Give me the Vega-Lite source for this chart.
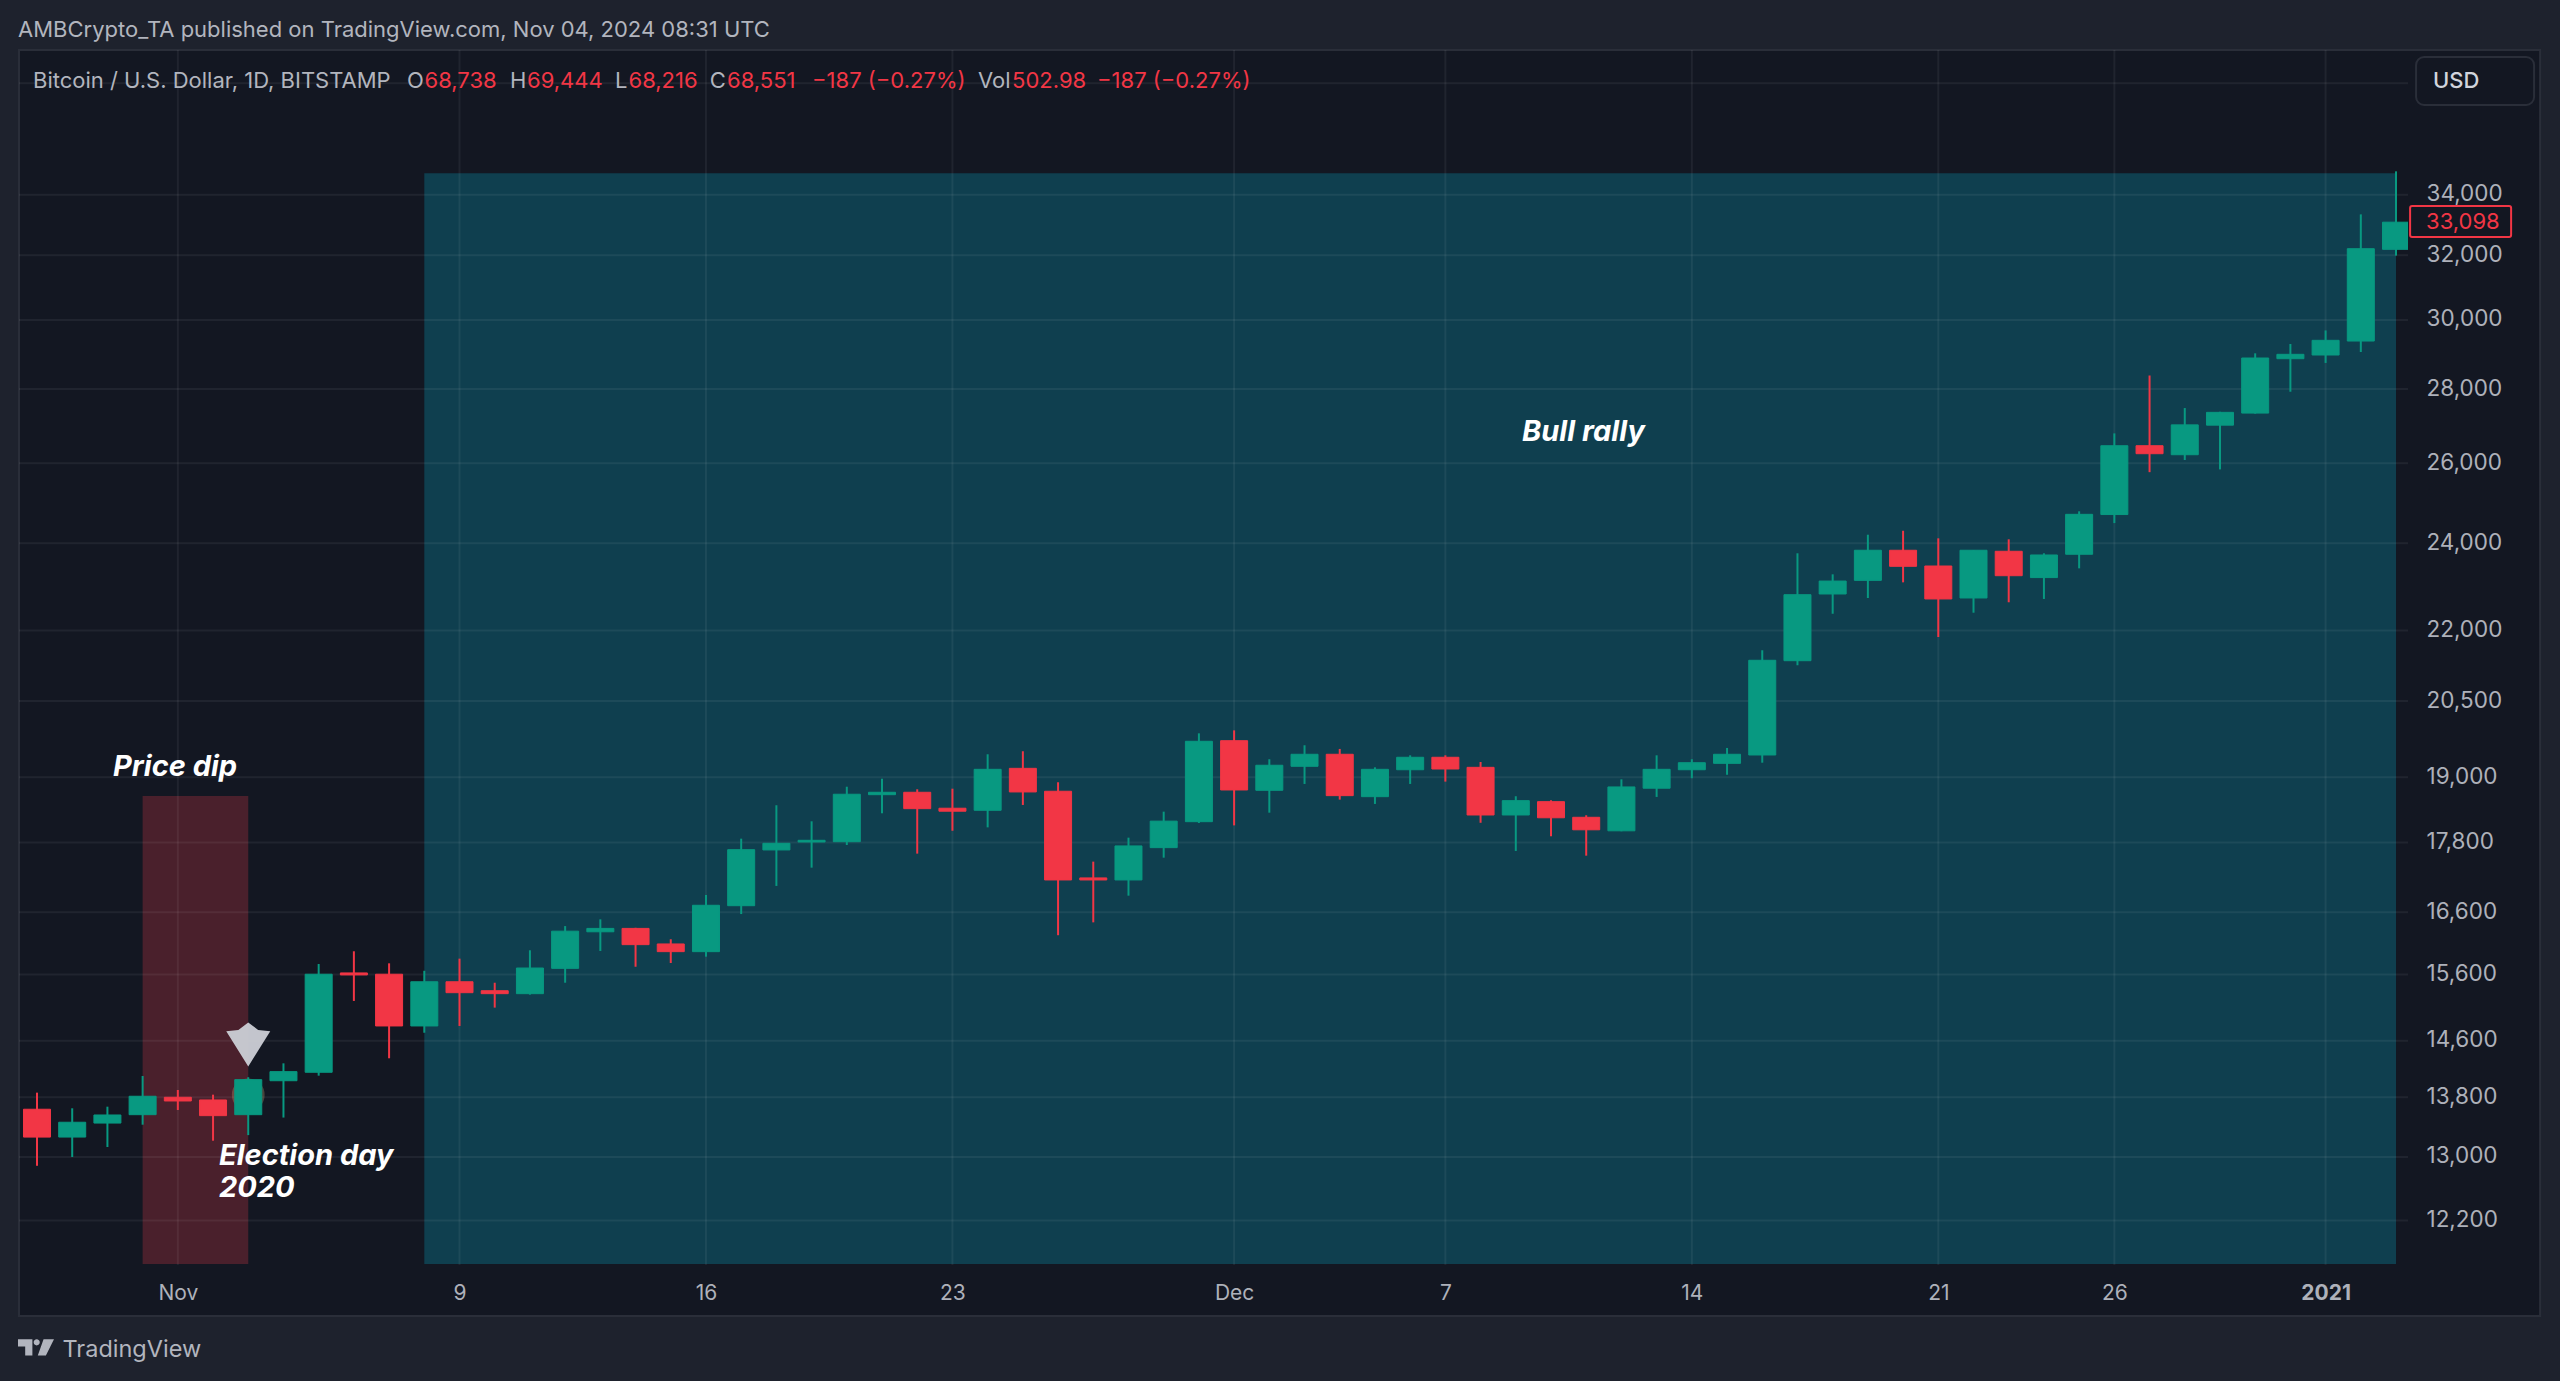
{
"$schema":"https://vega.github.io/schema/vega-lite/v6.json",
"width":2389,"height":1215,
"autosize":{"type":"none"},
"padding":{"left":19,"top":50,"right":152,"bottom":116},
"background":"#1e222d",
"config":{"view":{"stroke":null},"font":"Inter","axis":{"title":null}},
"datasets":{
"frame":[{"x":"2020-10-27T11:44:00Z","x2":"2021-01-07T02:13:00Z","y":39288,"y2":11090}],
"zones":[
{"zone":"Bull rally","x":"2020-11-08T00:00:00Z","x2":"2021-01-03T00:00:00Z","y":34735,"y2":11682},
{"zone":"Price dip","x":"2020-10-31T00:00:00Z","x2":"2020-11-03T00:00:00Z","y":18646,"y2":11682}],
"priceTicks":[{"p":12200},{"p":13000},{"p":13800},{"p":14600},{"p":15600},{"p":16600},{"p":17800},{"p":19000},{"p":20500},{"p":22000},{"p":24000},{"p":26000},{"p":28000},{"p":30000},{"p":32000},{"p":34000},{"p":38000}],
"dateTicks":[{"d":"2020-11-01"},{"d":"2020-11-09"},{"d":"2020-11-16"},{"d":"2020-11-23"},{"d":"2020-12-01"},{"d":"2020-12-07"},{"d":"2020-12-14"},{"d":"2020-12-21"},{"d":"2020-12-26"},{"d":"2021-01-01"}],
"candles":[
{"date":"2020-10-28","open":13635,"high":13863,"low":12886,"close":13261},
{"date":"2020-10-29","open":13261,"high":13648,"low":13000,"close":13459},
{"date":"2020-10-30","open":13448,"high":13670,"low":13130,"close":13557},
{"date":"2020-10-31","open":13561,"high":14096,"low":13426,"close":13813},
{"date":"2020-11-01","open":13799,"high":13900,"low":13625,"close":13748},
{"date":"2020-11-02","open":13762,"high":13835,"low":13213,"close":13548},
{"date":"2020-11-03","open":13561,"high":14078,"low":13287,"close":14044},
{"date":"2020-11-04","open":14029,"high":14275,"low":13522,"close":14157},
{"date":"2020-11-05","open":14148,"high":15764,"low":14100,"close":15604},
{"date":"2020-11-06","open":15624,"high":15966,"low":15193,"close":15593},
{"date":"2020-11-07","open":15604,"high":15775,"low":14347,"close":14818},
{"date":"2020-11-08","open":14818,"high":15658,"low":14718,"close":15487},
{"date":"2020-11-09","open":15487,"high":15849,"low":14818,"close":15319},
{"date":"2020-11-10","open":15349,"high":15472,"low":15092,"close":15304},
{"date":"2020-11-11","open":15304,"high":15982,"low":15289,"close":15701},
{"date":"2020-11-12","open":15696,"high":16373,"low":15472,"close":16290},
{"date":"2020-11-13","open":16280,"high":16484,"low":15971,"close":16335},
{"date":"2020-11-14","open":16335,"high":16345,"low":15721,"close":16072},
{"date":"2020-11-15","open":16083,"high":16159,"low":15780,"close":15960},
{"date":"2020-11-16","open":15960,"high":16890,"low":15880,"close":16717},
{"date":"2020-11-17","open":16710,"high":17867,"low":16571,"close":17672},
{"date":"2020-11-18","open":17667,"high":18474,"low":17043,"close":17785},
{"date":"2020-11-19","open":17808,"high":18180,"low":17357,"close":17838},
{"date":"2020-11-20","open":17813,"high":18819,"low":17755,"close":18678},
{"date":"2020-11-21","open":18670,"high":18970,"low":18326,"close":18715},
{"date":"2020-11-22","open":18715,"high":18771,"low":17602,"close":18411},
{"date":"2020-11-23","open":18419,"high":18782,"low":18009,"close":18364},
{"date":"2020-11-24","open":18381,"high":19439,"low":18070,"close":19149},
{"date":"2020-11-25","open":19168,"high":19498,"low":18479,"close":18721},
{"date":"2020-11-26","open":18734,"high":18903,"low":16224,"close":17145},
{"date":"2020-11-27","open":17180,"high":17462,"low":16434,"close":17145},
{"date":"2020-11-28","open":17145,"high":17885,"low":16878,"close":17738},
{"date":"2020-11-29","open":17708,"high":18356,"low":17531,"close":18183},
{"date":"2020-11-30","open":18173,"high":19850,"low":18149,"close":19693},
{"date":"2020-12-01","open":19705,"high":19909,"low":18106,"close":18758},
{"date":"2020-12-02","open":18752,"high":19343,"low":18337,"close":19227},
{"date":"2020-12-03","open":19207,"high":19615,"low":18871,"close":19439},
{"date":"2020-12-04","open":19439,"high":19543,"low":18578,"close":18652},
{"date":"2020-12-05","open":18633,"high":19187,"low":18498,"close":19149},
{"date":"2020-12-06","open":19141,"high":19419,"low":18871,"close":19381},
{"date":"2020-12-07","open":19381,"high":19419,"low":18915,"close":19155},
{"date":"2020-12-08","open":19187,"high":19290,"low":18153,"close":18295},
{"date":"2020-12-09","open":18295,"high":18641,"low":17649,"close":18559},
{"date":"2020-12-10","open":18540,"high":18566,"low":17910,"close":18244},
{"date":"2020-12-11","open":18253,"high":18290,"low":17566,"close":18026},
{"date":"2020-12-12","open":18008,"high":18959,"low":18000,"close":18815},
{"date":"2020-12-13","open":18791,"high":19419,"low":18628,"close":19149},
{"date":"2020-12-14","open":19141,"high":19343,"low":18980,"close":19276},
{"date":"2020-12-15","open":19264,"high":19562,"low":19045,"close":19439},
{"date":"2020-12-16","open":19425,"high":21568,"low":19276,"close":21353},
{"date":"2020-12-17","open":21344,"high":23762,"low":21247,"close":22799},
{"date":"2020-12-18","open":22815,"high":23268,"low":22369,"close":23112},
{"date":"2020-12-19","open":23128,"high":24207,"low":22724,"close":23834},
{"date":"2020-12-20","open":23834,"high":24303,"low":23082,"close":23455},
{"date":"2020-12-21","open":23462,"high":24120,"low":21855,"close":22702},
{"date":"2020-12-22","open":22724,"high":23834,"low":22392,"close":23834},
{"date":"2020-12-23","open":23810,"high":24096,"low":22627,"close":23236},
{"date":"2020-12-24","open":23192,"high":23762,"low":22702,"close":23722},
{"date":"2020-12-25","open":23739,"high":24780,"low":23407,"close":24705},
{"date":"2020-12-26","open":24700,"high":26786,"low":24490,"close":26458},
{"date":"2020-12-27","open":26458,"high":28381,"low":25768,"close":26248},
{"date":"2020-12-28","open":26221,"high":27473,"low":26083,"close":27015},
{"date":"2020-12-29","open":27007,"high":27371,"low":25839,"close":27355},
{"date":"2020-12-30","open":27335,"high":29017,"low":27320,"close":28881},
{"date":"2020-12-31","open":28861,"high":29288,"low":27924,"close":28988},
{"date":"2021-01-01","open":28968,"high":29688,"low":28739,"close":29396},
{"date":"2021-01-02","open":29375,"high":33338,"low":29055,"close":32214},
{"date":"2021-01-03","open":32194,"high":34803,"low":31992,"close":33079}],
"electionGlow":[{"d":"2020-11-03","p":13831}],
"electionArrow":[{"d":"2020-11-03","p":14547}],
"logo":[{"d":"2020-10-27T23:19:00Z","p":10748}],
"notes":[
{"d":"2020-10-30T03:48:00Z","p":19184,"t":"Price dip"},
{"d":"2020-12-09T04:19:00Z","p":26830,"t":"Bull rally"},
{"d":"2020-11-02T04:00:00Z","p":13010,"t":"Election day"},
{"d":"2020-11-02T04:00:00Z","p":12600,"t":"2020"}],
"headGray":[
{"d":"2020-10-27T11:03:00Z","p":40080,"t":"AMBCrypto_TA published on TradingView.com, Nov 04, 2024 08:31 UTC"},
{"d":"2020-10-27T21:16:00Z","p":38090,"t":"Bitcoin / U.S. Dollar, 1D, BITSTAMP"},
{"d":"2020-11-07T12:13:00Z","p":38090,"t":"O"},
{"d":"2020-11-10T10:26:00Z","p":38090,"t":"H"},
{"d":"2020-11-13T10:00:00Z","p":38090,"t":"L"},
{"d":"2020-11-16T02:30:00Z","p":38090,"t":"C"},
{"d":"2020-11-23T17:27:00Z","p":38090,"t":"Vol"}],
"headRed":[
{"d":"2020-11-08T00:09:00Z","p":38090,"t":"68,738"},
{"d":"2020-11-10T22:01:00Z","p":38090,"t":"69,444"},
{"d":"2020-11-13T19:12:00Z","p":38090,"t":"68,216"},
{"d":"2020-11-16T14:21:00Z","p":38090,"t":"68,551"},
{"d":"2020-11-19T00:18:00Z","p":38090,"t":"−187 (−0.27%)"},
{"d":"2020-11-24T16:38:00Z","p":38090,"t":"502.98"},
{"d":"2020-11-27T02:34:00Z","p":38090,"t":"−187 (−0.27%)"}],
"usdBox":[{"x":"2021-01-03T13:41:00Z","x2":"2021-01-06T22:07:00Z","y":39014,"y2":37188}],
"usdText":[{"d":"2021-01-04T01:16:00Z","p":38090,"t":"USD"}],
"tagBox":[{"x":"2021-01-03T09:36:00Z","x2":"2021-01-06T06:27:00Z","y":33618,"y2":32589}],
"tagText":[{"d":"2021-01-03T20:30:00Z","p":33098,"t":"33,098"}],
"brand":[{"d":"2020-10-28T17:23:00Z","p":10715,"t":"TradingView"}]
},
"layer":[
{"data":{"name":"frame"},"mark":{"type":"rect","fill":"#131722","stroke":"#2a2e39","strokeWidth":2,"clip":false},
 "encoding":{
  "x":{"field":"x","type":"temporal","title":null,"scale":{"type":"utc","domain":["2020-10-27T11:44:00Z","2021-01-03T08:10:00Z"],"padding":0},
   "axis":{"zindex":1,"title":null,"domain":false,"ticks":false,"grid":false,"labelColor":"#aeb1ba","labelFontSize":21,"labelPadding":17,"labelOverlap":false,"labelBound":false,"labelFlush":false,
    "values":["2020-11-01T00:00:00Z","2020-11-09T00:00:00Z","2020-11-16T00:00:00Z","2020-11-23T00:00:00Z","2020-12-01T00:00:00Z","2020-12-07T00:00:00Z","2020-12-14T00:00:00Z","2020-12-21T00:00:00Z","2020-12-26T00:00:00Z","2021-01-01T00:00:00Z"],
    "labelExpr":"utcmonth(datum.value)==0?'2021':utcdate(datum.value)==1?(utcmonth(datum.value)==10?'Nov':'Dec'):''+utcdate(datum.value)",
    "labelFontWeight":{"condition":{"test":"utcmonth(datum.value)==0","value":700},"value":400}}},
  "x2":{"field":"x2"},
  "y":{"field":"y","type":"quantitative","title":null,"scale":{"type":"log","domain":[11670,39288],"nice":false,"zero":false},
   "axis":{"zindex":1,"orient":"right","title":null,"domain":false,"ticks":false,"grid":false,"labelColor":"#aeb1ba","labelFontSize":22.5,"labelPadding":18,"labelAlign":"left","labelOffset":-1,"labelOverlap":false,"labelBound":false,"format":",",
    "values":[12200,13000,13800,14600,15600,16600,17800,19000,20500,22000,24000,26000,28000,30000,32000,34000]}},
  "y2":{"field":"y2"}}},
{"data":{"name":"zones"},"mark":{"type":"rect","clip":false},
 "encoding":{
  "x":{"field":"x","type":"temporal"},"x2":{"field":"x2"},
  "y":{"field":"y","type":"quantitative"},"y2":{"field":"y2"},
  "fill":{"field":"zone","type":"nominal","legend":null,"scale":{"domain":["Bull rally","Price dip"],"range":["#0f3f4f","#4a202c"]}}}},
{"data":{"name":"priceTicks"},"mark":{"type":"rule","stroke":"#ffffff","strokeOpacity":0.06,"strokeWidth":2},
 "encoding":{"y":{"field":"p","type":"quantitative"}}},
{"data":{"name":"dateTicks"},"mark":{"type":"rule","stroke":"#ffffff","strokeOpacity":0.06,"strokeWidth":2},
 "encoding":{"x":{"field":"d","type":"temporal"}}},
{"data":{"name":"electionGlow"},"mark":{"type":"point","shape":"circle","filled":true,"fill":"#c8a878","fillOpacity":0.3,"size":1075},
 "encoding":{"x":{"field":"d","type":"temporal"},"y":{"field":"p","type":"quantitative"}}},
{"data":{"name":"candles"},"mark":{"type":"rule","strokeWidth":2,"clip":true},
 "encoding":{
  "x":{"field":"date","type":"temporal"},
  "y":{"field":"low","type":"quantitative"},"y2":{"field":"high"},
  "stroke":{"condition":{"test":"datum.close>=datum.open","value":"#089981"},"value":"#f23645"}}},
{"data":{"name":"candles"},"mark":{"type":"bar","size":27,"strokeWidth":1,"clip":true},
 "encoding":{
  "x":{"field":"date","type":"temporal"},
  "y":{"field":"open","type":"quantitative"},"y2":{"field":"close"},
  "fill":{"condition":{"test":"datum.close>=datum.open","value":"#089981"},"value":"#f23645"},
  "stroke":{"condition":{"test":"datum.close>=datum.open","value":"#089981"},"value":"#f23645"}}},
{"data":{"name":"electionArrow"},"mark":{"type":"point","filled":true,"fill":"#c9cbd3","fillOpacity":0.97,"size":1936,"shape":"M0,-1 L0.45,-0.66 L1,-0.6 L0,1 L-1,-0.6 L-0.45,-0.66 Z"},
 "encoding":{"x":{"field":"d","type":"temporal"},"y":{"field":"p","type":"quantitative"}}},
{"data":{"name":"logo"},"mark":{"type":"point","filled":true,"fill":"#b2b5be","fillOpacity":1,"size":1296,"clip":false,"shape":"M-1,-0.45 L-0.2,-0.45 L-0.2,0.45 L-0.6,0.45 L-0.6,-0.05 L-1,-0.05 Z M-0.13,-0.28 A0.17,0.17 0 1 1 0.21,-0.28 A0.17,0.17 0 1 1 -0.13,-0.28 Z M0.42,-0.45 L1,-0.45 L0.55,0.45 L0.1,0.45 Z"},
 "encoding":{"x":{"field":"d","type":"temporal"},"y":{"field":"p","type":"quantitative"}}},
{"data":{"name":"usdBox"},"mark":{"type":"rect","fill":"#131722","stroke":"#2a2e39","strokeWidth":2,"cornerRadius":8,"clip":false},
 "encoding":{"x":{"field":"x","type":"temporal"},"x2":{"field":"x2"},"y":{"field":"y","type":"quantitative"},"y2":{"field":"y2"}}},
{"data":{"name":"tagBox"},"mark":{"type":"rect","fill":"#131722","stroke":"#f23645","strokeWidth":2,"cornerRadius":2,"clip":false},
 "encoding":{"x":{"field":"x","type":"temporal"},"x2":{"field":"x2"},"y":{"field":"y","type":"quantitative"},"y2":{"field":"y2"}}},
{"data":{"name":"notes"},"mark":{"type":"text","align":"left","baseline":"middle","font":"Inter","fontStyle":"italic","fontWeight":700,"fontSize":29,"fill":"#ffffff"},
 "encoding":{"x":{"field":"d","type":"temporal"},"y":{"field":"p","type":"quantitative"},"text":{"field":"t"}}},
{"data":{"name":"headGray"},"mark":{"type":"text","align":"left","baseline":"middle","fontSize":22,"fill":"#b2b5be","clip":false},
 "encoding":{"x":{"field":"d","type":"temporal"},"y":{"field":"p","type":"quantitative"},"text":{"field":"t"}}},
{"data":{"name":"headRed"},"mark":{"type":"text","align":"left","baseline":"middle","fontSize":22,"fill":"#f23645","clip":false},
 "encoding":{"x":{"field":"d","type":"temporal"},"y":{"field":"p","type":"quantitative"},"text":{"field":"t"}}},
{"data":{"name":"usdText"},"mark":{"type":"text","align":"left","baseline":"middle","fontSize":22,"fontWeight":500,"fill":"#d1d4dc","clip":false},
 "encoding":{"x":{"field":"d","type":"temporal"},"y":{"field":"p","type":"quantitative"},"text":{"field":"t"}}},
{"data":{"name":"tagText"},"mark":{"type":"text","align":"left","baseline":"middle","fontSize":22,"fill":"#f23645","clip":false},
 "encoding":{"x":{"field":"d","type":"temporal"},"y":{"field":"p","type":"quantitative"},"text":{"field":"t"}}},
{"data":{"name":"brand"},"mark":{"type":"text","align":"left","baseline":"middle","fontSize":23.5,"fill":"#b2b5be","clip":false},
 "encoding":{"x":{"field":"d","type":"temporal"},"y":{"field":"p","type":"quantitative"},"text":{"field":"t"}}}
]
}
